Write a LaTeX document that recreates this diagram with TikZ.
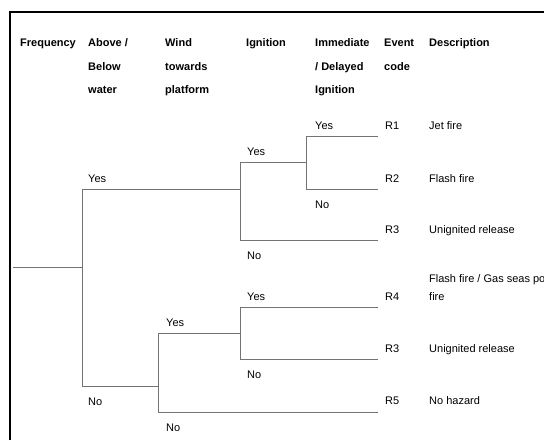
\documentclass[tikz,border=0pt]{standalone}
\usepackage{fontspec}
\setmainfont{Liberation Sans}
\begin{document}
\begin{tikzpicture}[x=1pt,y=-1pt,
    lbl/.style={anchor=base west, inner sep=0pt, font=\fontsize{11}{18}\selectfont},
    hdr/.style={anchor=base west, inner sep=0pt, align=left,
      font=\bfseries\fontsize{11}{23.5}\selectfont},
    br/.style={draw=black!55, line width=1pt}]
      \useasboundingbox (0,0) rectangle (544,440);
      % frame
      \draw[line width=2pt] (10,440) -- (10,12) -- (544,12);

      % column heads (base = last line)
      \node (hfreq) at (20,46.5) [hdr] {Frequency};
      \node (habove) at (88,93.5) [hdr] {Above /\\Below\\water};
      \node (hwind) at (165,93.5) [hdr] {Wind\\towards\\platform};
      \node (hign) at (246,46.5) [hdr] {Ignition};
      \node (himm) at (315,93.5) [hdr] {Immediate\\/ Delayed\\Ignition};
      \node (hcode) at (384,70) [hdr] {Event\\code};
      \node (hdesc) at (429,46.5) [hdr] {Description};

      % branch points
      \coordinate (s) at (13,267);
      \coordinate (a) at (82,267);
      \coordinate (aY) at (82,189);
      \coordinate (aN) at (82,386);

      \coordinate (bY) at (240,162);
      \coordinate (b) at (240,189);
      \coordinate (bN) at (240,240);

      \coordinate (cY) at (306,136);
      \coordinate (c) at (306,162);
      \coordinate (cN) at (306,189);

      \coordinate (wY) at (158,333);
      \coordinate (w) at (158,386);
      \coordinate (wN) at (158,412);

      \coordinate (dY) at (240,307);
      \coordinate (d) at (240,333);
      \coordinate (dN) at (240,359);

      \coordinate (e1) at (378,136);
      \coordinate (e2) at (378,189);
      \coordinate (e3) at (378,240);
      \coordinate (e4) at (378,307);
      \coordinate (e5) at (378,359);
      \coordinate (e6) at (378,412);

      \draw[br]
      (s) to (a) (aY) to (aN)
      (aY) to (b) (bY) to (bN)
      (bY) to (c) (cY) to (cN)
      (cY) to (e1) (cN) to (e2) (bN) to (e3)
      (aN) to (w) (wY) to (wN)
      (wY) to (d) (dY) to (dN)
      (dY) to (e4) (dN) to (e5) (wN) to (e6);

      % branch labels
      \node (laY) at (88,182) [lbl] {Yes};
      \node (laN) at (88,405) [lbl] {No};
      \node (lwY) at (166,326) [lbl] {Yes};
      \node (lwN) at (166,431) [lbl] {No};
      \node (lbY) at (247,155.5) [lbl] {Yes};
      \node (lbN) at (247,259.5) [lbl] {No};
      \node (ldY) at (247,300) [lbl] {Yes};
      \node (ldN) at (247,378.5) [lbl] {No};
      \node (lcY) at (315,129.5) [lbl] {Yes};
      \node (lcN) at (315,208) [lbl] {No};

      % outcomes
      \node (r1) at (385,129.5) [lbl] {R1};
      \node (r2) at (385,182) [lbl] {R2};
      \node (r3) at (385,233.5) [lbl] {R3};
      \node (r4) at (385,300) [lbl] {R4};
      \node (r3b) at (385,352) [lbl] {R3};
      \node (r5) at (385,404) [lbl] {R5};

      \node (t1) at (429,129.5) [lbl] {Jet fire};
      \node (t2) at (429,182) [lbl] {Flash fire};
      \node (t3) at (429,233.5) [lbl] {Unignited release};
      \node (t4) at (429,282) [lbl] {Flash fire / Gas seas po};
      \node (t4b) at (429,300) [lbl] {fire};
      \node (t3b) at (429,352) [lbl] {Unignited release};
      \node (t5) at (429,404) [lbl] {No hazard};
\end{tikzpicture}
\end{document}
